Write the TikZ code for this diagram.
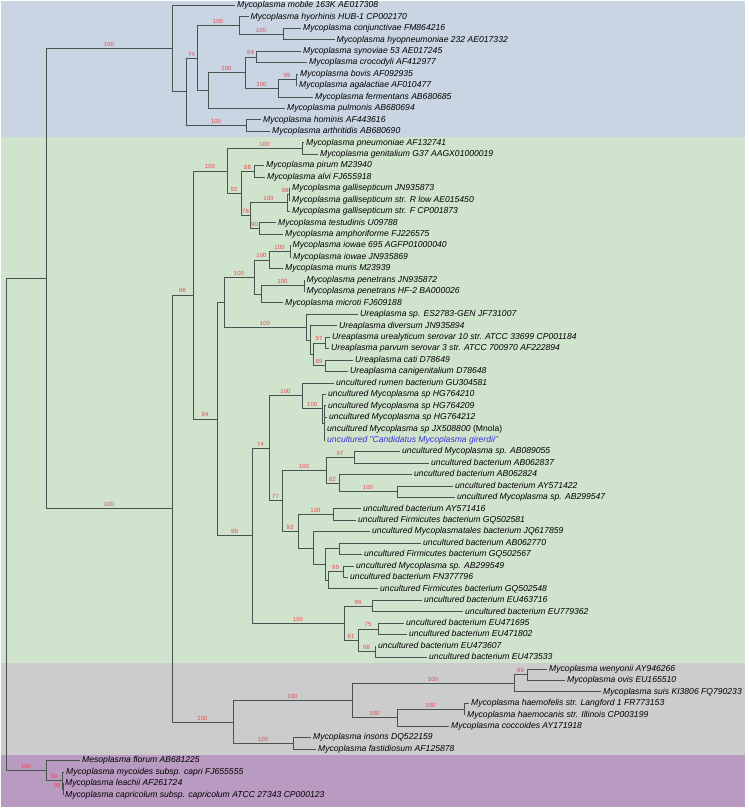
\documentclass[tikz,border=0pt]{standalone}
\usepackage{fontspec}
\setmainfont{Liberation Sans}
\usepackage{xcolor}
\usepackage{tikz}
\usetikzlibrary{positioning}
\definecolor{cladeblue}{RGB}{201,213,226}
\definecolor{cladegreen}{RGB}{208,228,205}
\definecolor{cladegray}{RGB}{204,204,204}
\definecolor{cladepurple}{RGB}{185,154,193}
\definecolor{treeline}{RGB}{72,82,78}
\definecolor{bootred}{RGB}{232,72,80}
\definecolor{girblue}{RGB}{50,50,215}
\newcommand{\tbranch}[2]{\draw[branch] (#1) |- (#2);}
\newcommand{\tboot}[4][]{\draw[branch] (#2) |- node[boot,#1] {#4} (#3);}

\begin{document}
\begin{tikzpicture}[x=1pt,y=-1pt,
  branch/.style={draw=treeline,line width=0.9pt},
  leaf/.style={anchor=west,inner xsep=2pt,inner ysep=0pt,font=\itshape\fontsize{8.6}{10}\selectfont,text height=6.2pt,text depth=1.8pt},
  boot/.style={pos=0.75,anchor=south,inner sep=0.5pt,yshift=1pt,text=bootred,font=\fontsize{6}{7}\selectfont}]
\useasboundingbox (0,0) rectangle (748,809);
% clade backgrounds
\fill[cladeblue] (1,1) rectangle (745,137);
\fill[cladegreen] (1,137) rectangle (745,663);
\fill[cladegray] (1,663) rectangle (745,755);
\fill[cladepurple] (1,755) rectangle (745,807);

% leaves
\node[leaf] (mobile) at (235,5.5) {Mycoplasma mobile 163K AE017308};
\node[leaf] (hyorhinis) at (248.5,16.9) {Mycoplasma hyorhinis HUB-1 CP002170};
\node[leaf] (conjunctivae) at (301,28.4) {Mycoplasma conjunctivae FM864216};
\node[leaf] (hyopneu) at (334.5,39.8) {Mycoplasma hyopneumoniae 232 AE017332};
\node[leaf] (synoviae) at (301,51.3) {Mycoplasma synoviae 53 AE017245};
\node[leaf] (crocodyli) at (307,62.7) {Mycoplasma crocodyli AF412977};
\node[leaf] (bovis) at (298,74.1) {Mycoplasma bovis AF092935};
\node[leaf] (agalactiae) at (297,85.6) {Mycoplasma agalactiae AF010477};
\node[leaf] (fermentans) at (313,97.0) {Mycoplasma fermentans AB680685};
\node[leaf] (pulmonis) at (285,108.5) {Mycoplasma pulmonis AB680694};
\node[leaf] (hominis) at (261,119.9) {Mycoplasma hominis AF443616};
\node[leaf] (arthritidis) at (270,131.3) {Mycoplasma arthritidis AB680690};
\node[leaf] (pneumoniae) at (304,142.8) {Mycoplasma pneumoniae AF132741};
\node[leaf] (genitalium) at (318,154.2) {Mycoplasma genitalium G37 AAGX01000019};
\node[leaf] (pirum) at (264,165.7) {Mycoplasma pirum M23940};
\node[leaf] (alvi) at (265,177.1) {Mycoplasma alvi FJ655918};
\node[leaf] (galJN) at (290,188.5) {Mycoplasma gallisepticum JN935873};
\node[leaf] (galR) at (290,200.0) {Mycoplasma gallisepticum str. R low AE015450};
\node[leaf] (galF) at (290,211.4) {Mycoplasma gallisepticum str. F CP001873};
\node[leaf] (testudinis) at (276,222.9) {Mycoplasma testudinis U09788};
\node[leaf] (amphori) at (283,234.3) {Mycoplasma amphoriforme FJ226575};
\node[leaf] (iowaeA) at (290.5,245.7) {Mycoplasma iowae 695 AGFP01000040};
\node[leaf] (iowaeB) at (291,257.2) {Mycoplasma iowae JN935869};
\node[leaf] (muris) at (283,268.6) {Mycoplasma muris M23939};
\node[leaf] (penA) at (304.5,280.1) {Mycoplasma penetrans JN935872};
\node[leaf] (penB) at (304.5,291.5) {Mycoplasma penetrans HF-2 BA000026};
\node[leaf] (microti) at (283,302.9) {Mycoplasma microti FJ609188};
\node[leaf] (ureasp) at (358,314.4) {Ureaplasma sp. ES2783-GEN JF731007};
\node[leaf] (diversum) at (337,325.8) {Ureaplasma diversum JN935894};
\node[leaf] (urealyt) at (330,337.3) {Ureaplasma urealyticum serovar 10 str. ATCC 33699 CP001184};
\node[leaf] (parvum) at (329,348.7) {Ureaplasma parvum serovar 3 str. ATCC 700970 AF222894};
\node[leaf] (cati) at (353,360.1) {Ureaplasma cati D78649};
\node[leaf] (canigen) at (348,371.6) {Ureaplasma canigenitalium D78648};
\node[leaf] (rumen) at (334,383.0) {uncultured rumen bacterium GU304581};
\node[leaf] (hgA) at (326,394.5) {uncultured Mycoplasma sp HG764210};
\node[leaf] (hgB) at (326,405.9) {uncultured Mycoplasma sp HG764209};
\node[leaf] (hgC) at (327,417.3) {uncultured Mycoplasma sp HG764212};
\node[leaf] (mnola) at (325,428.8) {uncultured Mycoplasma sp JX508800 {\upshape(Mnola)}};
\node[leaf,text=girblue] (girerdii) at (325,440.2) {uncultured "Candidatus Mycoplasma girerdii"};
\node[leaf] (u1) at (400,451.7) {uncultured Mycoplasma sp. AB089055};
\node[leaf] (u2) at (429,463.1) {uncultured bacterium AB062837};
\node[leaf] (u3) at (412,474.5) {uncultured bacterium AB062824};
\node[leaf] (u4) at (453,486.0) {uncultured bacterium AY571422};
\node[leaf] (u5) at (455,497.4) {uncultured Mycoplasma sp. AB299547};
\node[leaf] (u6) at (361,508.9) {uncultured bacterium AY571416};
\node[leaf] (u7) at (356,520.3) {uncultured Firmicutes bacterium GQ502581};
\node[leaf] (u8) at (370,531.7) {uncultured Mycoplasmatales bacterium JQ617859};
\node[leaf] (u9) at (421,543.2) {uncultured bacterium AB062770};
\node[leaf] (u10) at (362,554.6) {uncultured Firmicutes bacterium GQ502567};
\node[leaf] (u11) at (354,566.1) {uncultured Mycoplasma sp. AB299549};
\node[leaf] (u12) at (348,577.5) {uncultured bacterium FN377796};
\node[leaf] (u13) at (378,588.9) {uncultured Firmicutes bacterium GQ502548};
\node[leaf] (u14) at (422,600.4) {uncultured bacterium EU463716};
\node[leaf] (u15) at (463,611.8) {uncultured bacterium EU779362};
\node[leaf] (u16) at (404,623.3) {uncultured bacterium EU471695};
\node[leaf] (u17) at (407,634.7) {uncultured bacterium EU471802};
\node[leaf] (u18) at (376,646.1) {uncultured bacterium EU473607};
\node[leaf] (u19) at (427,657.6) {uncultured bacterium EU473533};
\node[leaf] (wenyonii) at (547,669.0) {Mycoplasma wenyonii AY946266};
\node[leaf] (ovis) at (565,680.5) {Mycoplasma ovis EU165510};
\node[leaf] (suis) at (601,691.9) {Mycoplasma suis KI3806 FQ790233};
\node[leaf] (haemofelis) at (469,703.3) {Mycoplasma haemofelis str. Langford 1 FR773153};
\node[leaf] (haemocanis) at (465,714.8) {Mycoplasma haemocanis str. Illinois CP003199};
\node[leaf] (coccoides) at (449,726.2) {Mycoplasma coccoides AY171918};
\node[leaf] (insons) at (311,737.7) {Mycoplasma insons DQ522159};
\node[leaf] (fastid) at (316,749.1) {Mycoplasma fastidiosum AF125878};
\node[leaf] (florum) at (80,760.5) {Mesoplasma florum AB681225};
\node[leaf] (mycoides) at (64,772.0) {Mycoplasma mycoides subsp. capri FJ655555};
\node[leaf] (leachii) at (63,783.4) {Mycoplasma leachii AF261724};
\node[leaf] (capricol) at (63,794.9) {Mycoplasma capricolum subsp. capricolum ATCC 27343 CP000123};

% inner nodes
\coordinate (root) at (6,524.5);
\coordinate (top) at (46,278.5);
\coordinate (A) at (172,48.6);
\coordinate (B) at (186,91.8);
\coordinate (C) at (197,58);
\coordinate (D) at (239,25.5);
\coordinate (F) at (283,34.1);
\coordinate (E) at (208,90.6);
\coordinate (G) at (245,72.7);
\coordinate (H) at (256,57);
\coordinate (I) at (278,88.4);
\coordinate (J) at (296,79.9);
\coordinate (K) at (246,125.6);
\coordinate (L) at (172,508.5);
\coordinate (M) at (193,295);
\coordinate (N) at (227,171);
\coordinate (S) at (302,148.5);
\coordinate (T) at (241,193.6);
\coordinate (U) at (254,171.4);
\coordinate (V) at (250,215.7);
\coordinate (W) at (287,202.8);
\coordinate (Y) at (289,194.3);
\coordinate (X) at (259,228.6);
\coordinate (O) at (217,419);
\coordinate (P) at (224,302.2);
\coordinate (Q) at (254,277.1);
\coordinate (AA) at (269,260);
\coordinate (AB) at (290,251.5);
\coordinate (R) at (261,294.3);
\coordinate (AC) at (304,285.8);
\coordinate (BA) at (306,327.3);
\coordinate (BB) at (310,340.1);
\coordinate (BF) at (313,354.6);
\coordinate (BD) at (325,343);
\coordinate (BE) at (325,365.9);
\coordinate (Z) at (252,535.8);
\coordinate (ZA) at (269,448.3);
\coordinate (ZC) at (302,395.7);
\coordinate (ZE) at (322.5,408.8);
\coordinate (ZF) at (324,423.1);
\coordinate (ZD) at (282,500.9);
\coordinate (ZG) at (326,470.3);
\coordinate (ZI) at (354,457.4);
\coordinate (ZJ) at (339,483.1);
\coordinate (ZK) at (397,491.7);
\coordinate (ZH) at (298,531.4);
\coordinate (ZL) at (333,514.6);
\coordinate (ZM) at (313,548.2);
\coordinate (ZN) at (325,564.7);
\coordinate (ZO) at (339,548.9);
\coordinate (ZP) at (328,580.4);
\coordinate (ZQ) at (343,571.8);
\coordinate (ZB) at (344,623.3);
\coordinate (ZR) at (372,606.1);
\coordinate (ZS) at (358,640.4);
\coordinate (ZT) at (378,629);
\coordinate (ZU) at (375,651.9);
\coordinate (GA) at (233,722);
\coordinate (GB) at (352,700.5);
\coordinate (GD) at (514,683.3);
\coordinate (GF) at (527,674.7);
\coordinate (GE) at (397,717.7);
\coordinate (GG) at (464,709.1);
\coordinate (GC) at (293,743.4);
\coordinate (PA) at (46,770.5);
\coordinate (PB) at (62,780.6);
\coordinate (PC) at (63,789.1);

% branches
\tbranch{root}{top}
\tboot{root}{PA}{100}
\tboot{top}{A}{100}
\tboot{top}{L}{100}
\tbranch{A}{mobile}
\tbranch{A}{B}
\tboot{B}{C}{74}
\tboot{B}{K}{100}
\tboot{C}{D}{100}
\tbranch{C}{E}
\tbranch{D}{hyorhinis}
\tboot{D}{F}{100}
\tbranch{F}{conjunctivae}
\tbranch{F}{hyopneu}
\tboot{E}{G}{100}
\tbranch{E}{pulmonis}
\tboot{G}{H}{64}
\tboot{G}{I}{100}
\tbranch{H}{synoviae}
\tbranch{H}{crocodyli}
\tboot{I}{J}{99}
\tbranch{I}{fermentans}
\tbranch{J}{bovis}
\tbranch{J}{agalactiae}
\tbranch{K}{hominis}
\tbranch{K}{arthritidis}

\tboot{L}{M}{66}
\tboot{L}{GA}{100}
\tboot{M}{N}{100}
\tboot{M}{O}{94}
\tboot{N}{S}{100}
\tboot{N}{T}{92}
\tbranch{S}{pneumoniae}
\tbranch{S}{genitalium}
\tboot{T}{U}{88}
\tboot{T}{V}{78}
\tbranch{U}{pirum}
\tbranch{U}{alvi}
\tboot{V}{W}{100}
\tboot{V}{X}{90}
\tboot[xshift=-3pt]{W}{Y}{98}
\tbranch{W}{galF}
\tbranch{Y}{galJN}
\tbranch{Y}{galR}
\tbranch{X}{testudinis}
\tbranch{X}{amphori}
\tbranch{O}{P}
\tboot{O}{Z}{99}
\tboot{P}{Q}{100}
\tboot{P}{BA}{100}
\tboot{Q}{AA}{100}
\tbranch{Q}{R}
\tboot{AA}{AB}{100}
\tbranch{AA}{muris}
\tbranch{AB}{iowaeA}
\tbranch{AB}{iowaeB}
\tboot{R}{AC}{100}
\tbranch{R}{microti}
\tbranch{AC}{penA}
\tbranch{AC}{penB}
\tbranch{BA}{ureasp}
\tbranch{BA}{BB}
\tbranch{BB}{diversum}
\tbranch{BB}{BF}
\tboot{BF}{BD}{97}
\tboot{BF}{BE}{89}
\tbranch{BD}{urealyt}
\tbranch{BD}{parvum}
\tbranch{BE}{cati}
\tbranch{BE}{canigen}
\tboot{Z}{ZA}{74}
\tboot{Z}{ZB}{100}
\tboot{ZA}{ZC}{100}
\tboot{ZA}{ZD}{77}
\tbranch{ZC}{rumen}
\tboot{ZC}{ZE}{100}
\tbranch{ZE}{hgA}
\tbranch{ZE}{ZF}
\tbranch{ZF}{hgB}
\tbranch{ZF}{hgC}
\tbranch{ZF}{mnola}
\tbranch{ZF}{girerdii}
\tboot{ZD}{ZG}{100}
\tboot{ZD}{ZH}{93}
\tboot{ZG}{ZI}{97}
\tboot{ZG}{ZJ}{82}
\tbranch{ZI}{u1}
\tbranch{ZI}{u2}
\tbranch{ZJ}{u3}
\tboot{ZJ}{ZK}{100}
\tbranch{ZK}{u4}
\tbranch{ZK}{u5}
\tboot{ZH}{ZL}{100}
\tbranch{ZH}{ZM}
\tbranch{ZL}{u6}
\tbranch{ZL}{u7}
\tbranch{ZM}{u8}
\tbranch{ZM}{ZN}
\tbranch{ZN}{ZO}
\tbranch{ZN}{ZP}
\tbranch{ZO}{u9}
\tbranch{ZO}{u10}
\tboot{ZP}{ZQ}{99}
\tbranch{ZP}{u13}
\tbranch{ZQ}{u11}
\tbranch{ZQ}{u12}
\tboot{ZB}{ZR}{96}
\tboot{ZB}{ZS}{61}
\tbranch{ZR}{u14}
\tbranch{ZR}{u15}
\tboot{ZS}{ZT}{75}
\tboot{ZS}{ZU}{98}
\tbranch{ZT}{u16}
\tbranch{ZT}{u17}
\tbranch{ZU}{u18}
\tbranch{ZU}{u19}

\tboot{GA}{GB}{100}
\tboot{GA}{GC}{100}
\tboot{GB}{GD}{100}
\tboot{GB}{GE}{100}
\tboot{GD}{GF}{69}
\tbranch{GD}{suis}
\tbranch{GF}{wenyonii}
\tbranch{GF}{ovis}
\tboot{GE}{GG}{100}
\tbranch{GE}{coccoides}
\tbranch{GG}{haemofelis}
\tbranch{GG}{haemocanis}
\tbranch{GC}{insons}
\tbranch{GC}{fastid}

\tbranch{PA}{florum}
\tboot{PA}{PB}{99}
\tbranch{PB}{mycoides}
\tboot[xshift=-5pt]{PB}{PC}{95}
\tbranch{PC}{leachii}
\tbranch{PC}{capricol}
\end{tikzpicture}
\end{document}
